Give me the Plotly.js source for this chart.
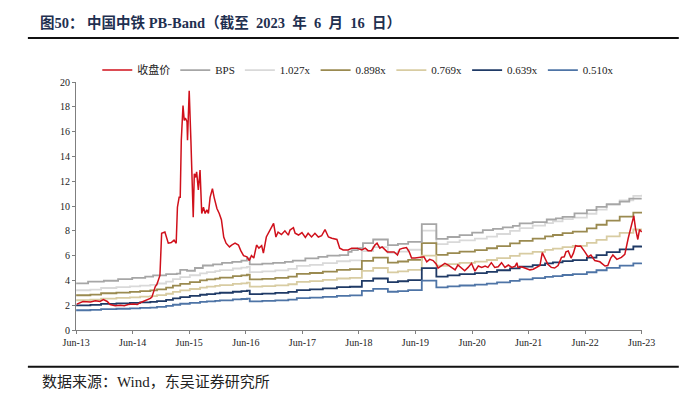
<!DOCTYPE html>
<html>
<head>
<meta charset="utf-8">
<script src="https://cdn.plot.ly/plotly-3.0.1.min.js"></script>
<style>
html,body{margin:0;padding:0;background:#fff;}
#chart{width:697px;height:399px;}
</style>
</head>
<body>
<div id="chart"></div>
<script>
// ---- Data (time in decimal years) ----
const closeT = [2013.47,2013.53,2013.58,2013.71,2013.80,2013.88,2013.94,2014.01,2014.06,2014.15,2014.24,2014.31,2014.38,2014.47,2014.54,2014.59,2014.71,2014.77,2014.80,2014.86,2014.89,2014.91,2014.94,2014.97,2015.03,2015.09,2015.14,2015.19,2015.23,2015.25,2015.28,2015.30,2015.32,2015.35,2015.37,2015.39,2015.42,2015.43,2015.46,2015.49,2015.51,2015.53,2015.55,2015.57,2015.59,2015.62,2015.65,2015.68,2015.71,2015.74,2015.77,2015.80,2015.83,2015.87,2015.90,2015.95,2015.99,2016.03,2016.07,2016.11,2016.17,2016.21,2016.27,2016.33,2016.37,2016.42,2016.48,2016.52,2016.56,2016.60,2016.65,2016.69,2016.74,2016.77,2016.82,2016.86,2016.89,2016.95,2016.99,2017.03,2017.09,2017.15,2017.21,2017.24,2017.30,2017.33,2017.39,2017.45,2017.51,2017.56,2017.62,2017.68,2017.74,2017.80,2017.86,2017.92,2017.98,2018.07,2018.12,2018.18,2018.27,2018.33,2018.42,2018.51,2018.57,2018.62,2018.68,2018.74,2018.78,2018.83,2018.87,2018.92,2018.96,2019.01,2019.08,2019.14,2019.18,2019.24,2019.30,2019.35,2019.39,2019.45,2019.54,2019.61,2019.66,2019.71,2019.77,2019.83,2019.86,2019.92,2019.98,2020.04,2020.10,2020.16,2020.21,2020.27,2020.33,2020.39,2020.45,2020.51,2020.57,2020.63,2020.69,2020.74,2020.80,2020.86,2020.92,2020.98,2021.04,2021.10,2021.16,2021.22,2021.25,2021.27,2021.33,2021.39,2021.48,2021.54,2021.61,2021.66,2021.70,2021.75,2021.80,2021.86,2021.92,2021.98,2022.04,2022.09,2022.12,2022.16,2022.21,2022.25,2022.29,2022.33,2022.38,2022.45,2022.51,2022.56,2022.63,2022.72,2022.81,2022.86,2022.91,2022.95,2023.02,2023.10,2023.16,2023.22,2023.27,2023.32,2023.35,2023.39,2023.42,2023.46];
const closeV = [2.09,2.2,2.3,2.25,2.35,2.3,2.45,2.3,2.05,1.96,2.0,1.95,2.05,2.1,2.05,2.2,2.4,2.55,2.65,3.5,3.7,4.0,4.4,7.8,7.9,7.0,7.05,7.25,7.0,9.9,10.7,10.7,15.3,18.1,16.9,17.1,16.8,15.3,19.3,15.3,12.1,9.1,12.6,12.3,12.75,11.3,12.9,9.4,9.9,9.4,9.7,9.4,10.7,11.4,10.7,9.8,9.4,8.9,7.5,7.0,6.7,6.85,7.0,6.85,6.4,6.0,5.9,5.6,6.0,5.8,6.85,6.6,6.8,6.2,7.5,7.8,8.05,8.6,7.5,7.9,7.7,8.0,7.65,8.06,8.25,7.8,7.66,7.85,7.47,7.8,7.5,7.8,7.5,7.6,8.1,7.5,7.4,7.3,6.6,6.45,6.45,6.6,6.6,6.45,6.6,6.4,6.4,6.85,7.0,6.6,6.7,6.45,6.3,6.3,6.3,6.05,6.5,6.6,6.65,6.3,5.8,5.8,5.85,5.9,5.5,5.7,5.6,5.3,5.0,5.16,5.38,5.24,5.05,4.84,5.24,4.97,4.78,5.05,5.38,4.75,5.16,5.05,5.16,5.05,5.43,5.05,5.1,5.43,5.05,5.24,5.05,5.15,5.42,5.05,5.1,5.0,4.85,4.9,5.1,5.2,6.24,5.7,5.3,5.05,5.0,5.2,5.86,5.9,6.3,6.37,5.8,6.2,6.8,6.75,6.77,6.32,5.9,6.05,5.6,5.5,5.16,5.2,5.8,6.05,5.7,5.86,6.1,7.4,8.2,9.2,8.2,7.3,8.1,7.9];

const bpsT = [2013.46,2013.67,2013.95,2014.20,2014.45,2014.68,2014.82,2015.05,2015.24,2015.30,2015.42,2015.56,2015.70,2015.88,2016.04,2016.22,2016.38,2016.48,2016.53,2016.75,2016.94,2017.15,2017.29,2017.51,2017.74,2017.90,2018.12,2018.27,2018.33,2018.44,2018.53,2018.71,2018.97,2019.15,2019.33,2019.57,2019.83,2020.03,2020.24,2020.46,2020.65,2020.83,2021.00,2021.18,2021.30,2021.53,2021.78,2021.94,2022.06,2022.27,2022.49,2022.66,2022.84,2023.07,2023.24,2023.46];
const bpsV = [3.76,3.9,3.97,4.1,4.2,4.3,4.4,4.5,4.55,4.85,4.78,5.0,5.2,5.3,5.42,5.5,5.6,5.77,5.3,5.35,5.42,5.5,5.6,5.77,5.9,6.0,6.04,6.3,6.44,6.6,7.0,7.3,6.85,6.95,7.11,8.54,7.35,7.5,7.65,7.85,8.05,8.15,8.27,8.4,8.6,8.7,8.91,9.0,9.13,9.4,9.66,9.93,10.15,10.35,10.6,10.6];

// per-share book value used for the PB bands
const bandT = [2013.46,2013.71,2013.90,2014.17,2014.41,2014.59,2014.77,2014.89,2015.05,2015.17,2015.30,2015.47,2015.65,2015.77,2015.92,2016.00,2016.23,2016.38,2016.48,2016.53,2016.75,2016.98,2017.21,2017.36,2017.59,2017.82,2018.07,2018.30,2018.51,2018.71,2018.97,2019.15,2019.33,2019.57,2019.83,2020.03,2020.24,2020.51,2020.72,2020.90,2021.13,2021.30,2021.53,2021.75,2021.89,2022.06,2022.24,2022.49,2022.66,2022.84,2023.07,2023.31,2023.46];
const bandBase = [3.12,3.17,3.3,3.36,3.42,3.49,3.55,3.65,3.8,3.99,4.15,4.3,4.45,4.54,4.62,4.7,4.83,4.9,4.96,4.54,4.6,4.68,4.8,5.04,5.12,5.25,5.4,5.46,6.2,6.5,6.05,6.15,6.3,7.8,6.74,6.9,7.04,7.18,7.34,7.54,7.78,8.0,8.2,8.4,8.53,8.7,8.83,9.13,9.45,9.82,10.18,10.54,10.62];
const multiples = [1.027, 0.898, 0.769, 0.639, 0.510];
const multipleLabels = ['1.027x','0.898x','0.769x','0.639x','0.510x'];
const bandColors = ['#D9D9D9','#9A8A50','#D8CCA2','#1F3A66','#4E74A6'];

const xTickYears = [2013,2014,2015,2016,2017,2018,2019,2020,2021,2022,2023];
const xTickText = ['Jun-13','Jun-14','Jun-15','Jun-16','Jun-17','Jun-18','Jun-19','Jun-20','Jun-21','Jun-22','Jun-23'];

function toDate(t){
  const y = Math.floor(t);
  const s = Date.UTC(y,0,1), e = Date.UTC(y+1,0,1);
  return new Date(s + (t-y)*(e-s)).toISOString().slice(0,10);
}

const serif = '"Liberation Serif", "Times New Roman", "Noto Sans CJK SC", serif';

const traces = [];
multiples.forEach((m,i)=>{
  traces.push({
    x: bandT.map(toDate), y: bandBase.map(v=>v*m),
    type:'scatter', mode:'lines', name: multipleLabels[i],
    line:{color:bandColors[i], width:1.8, shape:'hv'},
    legendrank: 3+i, hoverinfo:'skip'
  });
});
traces.push({
  x: bpsT.map(toDate), y: bpsV, type:'scatter', mode:'lines', name:'BPS',
  line:{color:'#A6A6A6', width:1.8, shape:'hv'}, legendrank:2
});
traces.push({
  x: closeT.map(toDate), y: closeV, type:'scatter', mode:'lines', name:'收盘价',
  line:{color:'#D0101B', width:1.5}, legendrank:1
});

const sp = '\u2002';
const titleText = '<b>图50：' + ' 中国中铁 PB-Band（截至' + sp + '2023' + sp + '年' + sp + '6' + sp + '月' + sp + '16' + sp + '日）</b>';

const layout = {
  width:697, height:399,
  margin:{l:76, r:55, t:82, b:69},
  paper_bgcolor:'#fff', plot_bgcolor:'#fff',
  font:{family:serif, size:10, color:'#222'},
  showlegend:true,
  legend:{orientation:'h', x:0.0376, y:1.048, xanchor:'left', yanchor:'middle',
          font:{family:serif, size:11, color:'#222'}, itemwidth:30,
          traceorder:'normal', bgcolor:'rgba(0,0,0,0)'},
  xaxis:{
    type:'date',
    range:[toDate(2013.455), toDate(2023.465)],
    tickvals: xTickYears.map(y=>toDate(y+0.46)),
    ticktext: xTickText,
    showgrid:false, zeroline:false,
    showline:true, linecolor:'#7f7f7f', linewidth:1,
    ticks:'outside', ticklen:3, tickcolor:'#7f7f7f',
    tickfont:{family:serif, size:10, color:'#222'}
  },
  yaxis:{
    range:[0,20], dtick:2, tick0:0,
    showgrid:false, zeroline:false,
    showline:true, linecolor:'#7f7f7f', linewidth:1,
    ticks:'outside', ticklen:3, tickcolor:'#7f7f7f',
    tickfont:{family:serif, size:10, color:'#222'}
  },
  annotations:[
    {text:titleText, xref:'paper', yref:'paper',
     x:-0.068, y:1.24, xanchor:'left', yanchor:'middle', showarrow:false,
     font:{family:serif, size:14.5, color:'#1F3050'}},
    {text:'数据来源：Wind，东吴证券研究所', xref:'paper', yref:'paper',
     x:-0.064, y:-0.208, xanchor:'left', yanchor:'middle', showarrow:false,
     font:{family:serif, size:15, color:'#222'}}
  ],
  shapes:[
    {type:'line', xref:'paper', yref:'paper', x0:-0.085, x1:1.065, y0:1.177, y1:1.177,
     line:{color:'#111', width:2}},
    {type:'line', xref:'paper', yref:'paper', x0:-0.085, x1:1.065, y0:-0.148, y1:-0.148,
     line:{color:'#111', width:2}}
  ]
};

Plotly.newPlot('chart', traces, layout, {displayModeBar:false, staticPlot:true});
</script>
</body>
</html>
